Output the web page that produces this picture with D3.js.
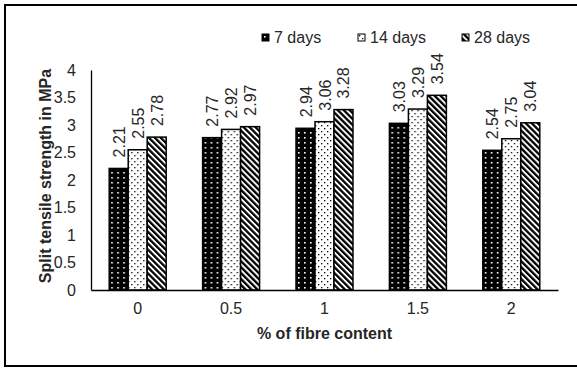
<!DOCTYPE html>
<html>
<head>
<meta charset="utf-8">
<script src="https://cdn.jsdelivr.net/npm/d3@7"></script>
<style>
  body { margin: 0; background: #fff; }
  text { font-family: "Liberation Sans", Arial, sans-serif; fill: #262626; }
</style>
</head>
<body>
<div id="chart"></div>
<script>
// chart data
var categories = ["0", "0.5", "1", "1.5", "2"];
var seriesNames = ["7 days", "14 days", "28 days"];
var days7 = [2.21, 2.77, 2.94, 3.03, 2.54];
var days14 = [2.55, 2.92, 3.06, 3.29, 2.75];
var days28 = [2.78, 2.97, 3.28, 3.54, 3.04];
var yTicks = [0, 0.5, 1, 1.5, 2, 2.5, 3, 3.5, 4];

var svgWidth = 577;
var svgHeight = 369;

var margin = { top: 70, right: 19, bottom: 79, left: 91 };
var width = svgWidth - margin.left - margin.right;
var height = svgHeight - margin.top - margin.bottom;

var svg = d3.select("#chart")
  .append("svg")
  .attr("width", svgWidth)
  .attr("height", svgHeight);

// fill patterns
var defs = svg.append("defs");

var p1 = defs.append("pattern")
  .attr("id", "pat7")
  .attr("patternUnits", "userSpaceOnUse")
  .attr("width", 6).attr("height", 5);
p1.append("rect").attr("width", 6).attr("height", 5).attr("fill", "#000");
p1.append("rect").attr("x", 2).attr("y", 2).attr("width", 1.6).attr("height", 1.6).attr("fill", "#fff");

var p2 = defs.append("pattern")
  .attr("id", "pat14")
  .attr("patternUnits", "userSpaceOnUse")
  .attr("width", 6).attr("height", 6);
p2.append("rect").attr("width", 6).attr("height", 6).attr("fill", "#fff");
p2.append("rect").attr("x", 1).attr("y", 1).attr("width", 1.3).attr("height", 1.3).attr("fill", "#000");
p2.append("rect").attr("x", 4).attr("y", 4).attr("width", 1.3).attr("height", 1.3).attr("fill", "#000");

var p3 = defs.append("pattern")
  .attr("id", "pat28")
  .attr("patternUnits", "userSpaceOnUse")
  .attr("width", 4.2).attr("height", 4.2)
  .attr("patternTransform", "rotate(-45)");
p3.append("rect").attr("width", 4.2).attr("height", 4.2).attr("fill", "#fff");
p3.append("rect").attr("width", 2.3).attr("height", 4.2).attr("fill", "#000");

var fills = ["url(#pat7)", "url(#pat14)", "url(#pat28)"];

// outer frame
svg.append("rect")
  .attr("x", 5).attr("y", 5)
  .attr("width", 590).attr("height", 361)
  .attr("fill", "none")
  .attr("stroke", "#000")
  .attr("stroke-width", 2);

var chartGroup = svg.append("g")
  .attr("transform", `translate(${margin.left}, ${margin.top})`);

// scales
var x0 = d3.scaleBand()
  .domain(categories)
  .range([0, width])
  .paddingInner(0.39)
  .paddingOuter(0.195);

var x1 = d3.scaleBand()
  .domain(seriesNames)
  .range([0, x0.bandwidth()]);

var y = d3.scaleLinear()
  .domain([0, 4])
  .range([height, 0]);

// y axis
var leftAxis = d3.axisLeft(y).tickValues(yTicks).tickSize(0).tickPadding(15)
  .tickFormat(d3.format("~g"));
var gy = chartGroup.append("g").call(leftAxis);
gy.select(".domain").attr("stroke", "#000").attr("stroke-width", 1.3);
gy.selectAll("text")
  .style("font-size", "16px")
  .attr("fill", "#262626");

// bars
var rows = categories.map(function(c, i) {
  return { cat: c, values: [days7[i], days14[i], days28[i]] };
});

var groups = chartGroup.selectAll(".grp")
  .data(rows)
  .enter()
  .append("g")
  .attr("class", "grp")
  .attr("transform", d => `translate(${x0(d.cat)}, 0)`);

groups.selectAll("rect")
  .data(d => d.values.map((v, j) => ({ name: seriesNames[j], value: v, idx: j })))
  .enter()
  .append("rect")
  .attr("x", d => x1(d.name))
  .attr("y", d => y(d.value))
  .attr("width", x1.bandwidth())
  .attr("height", d => height - y(d.value))
  .attr("fill", d => fills[d.idx])
  .attr("stroke", "#000")
  .attr("stroke-width", 1.5);

// value labels
groups.selectAll(".val")
  .data(d => d.values.map((v, j) => ({ name: seriesNames[j], value: v })))
  .enter()
  .append("text")
  .attr("class", "val")
  .attr("transform", d => `translate(${x1(d.name) + x1.bandwidth() / 2 + 6}, ${y(d.value) - 11}) rotate(-90)`)
  .style("font-size", "16px")
  .text(d => d.value.toFixed(2));

// x axis
var bottomAxis = d3.axisBottom(x0).tickSize(0).tickPadding(13);
var gx = chartGroup.append("g")
  .attr("transform", `translate(0, ${height})`)
  .call(bottomAxis);
gx.select(".domain").attr("stroke", "#000").attr("stroke-width", 1.3);
gx.selectAll("text")
  .style("font-size", "16px")
  .attr("fill", "#262626");

// axis titles
svg.append("text")
  .attr("transform", `translate(51, 176) rotate(-90)`)
  .attr("text-anchor", "middle")
  .style("font-size", "16px")
  .style("font-weight", "bold")
  .text("Split tensile strength in MPa");

svg.append("text")
  .attr("x", margin.left + width / 2)
  .attr("y", 339)
  .attr("text-anchor", "middle")
  .style("font-size", "16px")
  .style("font-weight", "bold")
  .text("% of fibre content");

// legend
var legendX = [262, 358, 462];
var legend = svg.selectAll(".legend")
  .data(seriesNames)
  .enter()
  .append("g")
  .attr("class", "legend")
  .attr("transform", (d, i) => `translate(${legendX[i]}, 34)`);

legend.append("rect")
  .attr("width", 7).attr("height", 7)
  .attr("fill", (d, i) => fills[i])
  .attr("stroke", "#000")
  .attr("stroke-width", 1);

legend.append("text")
  .attr("x", 12)
  .attr("y", 9)
  .style("font-size", "16px")
  .text(d => d);
</script>
</body>
</html>
